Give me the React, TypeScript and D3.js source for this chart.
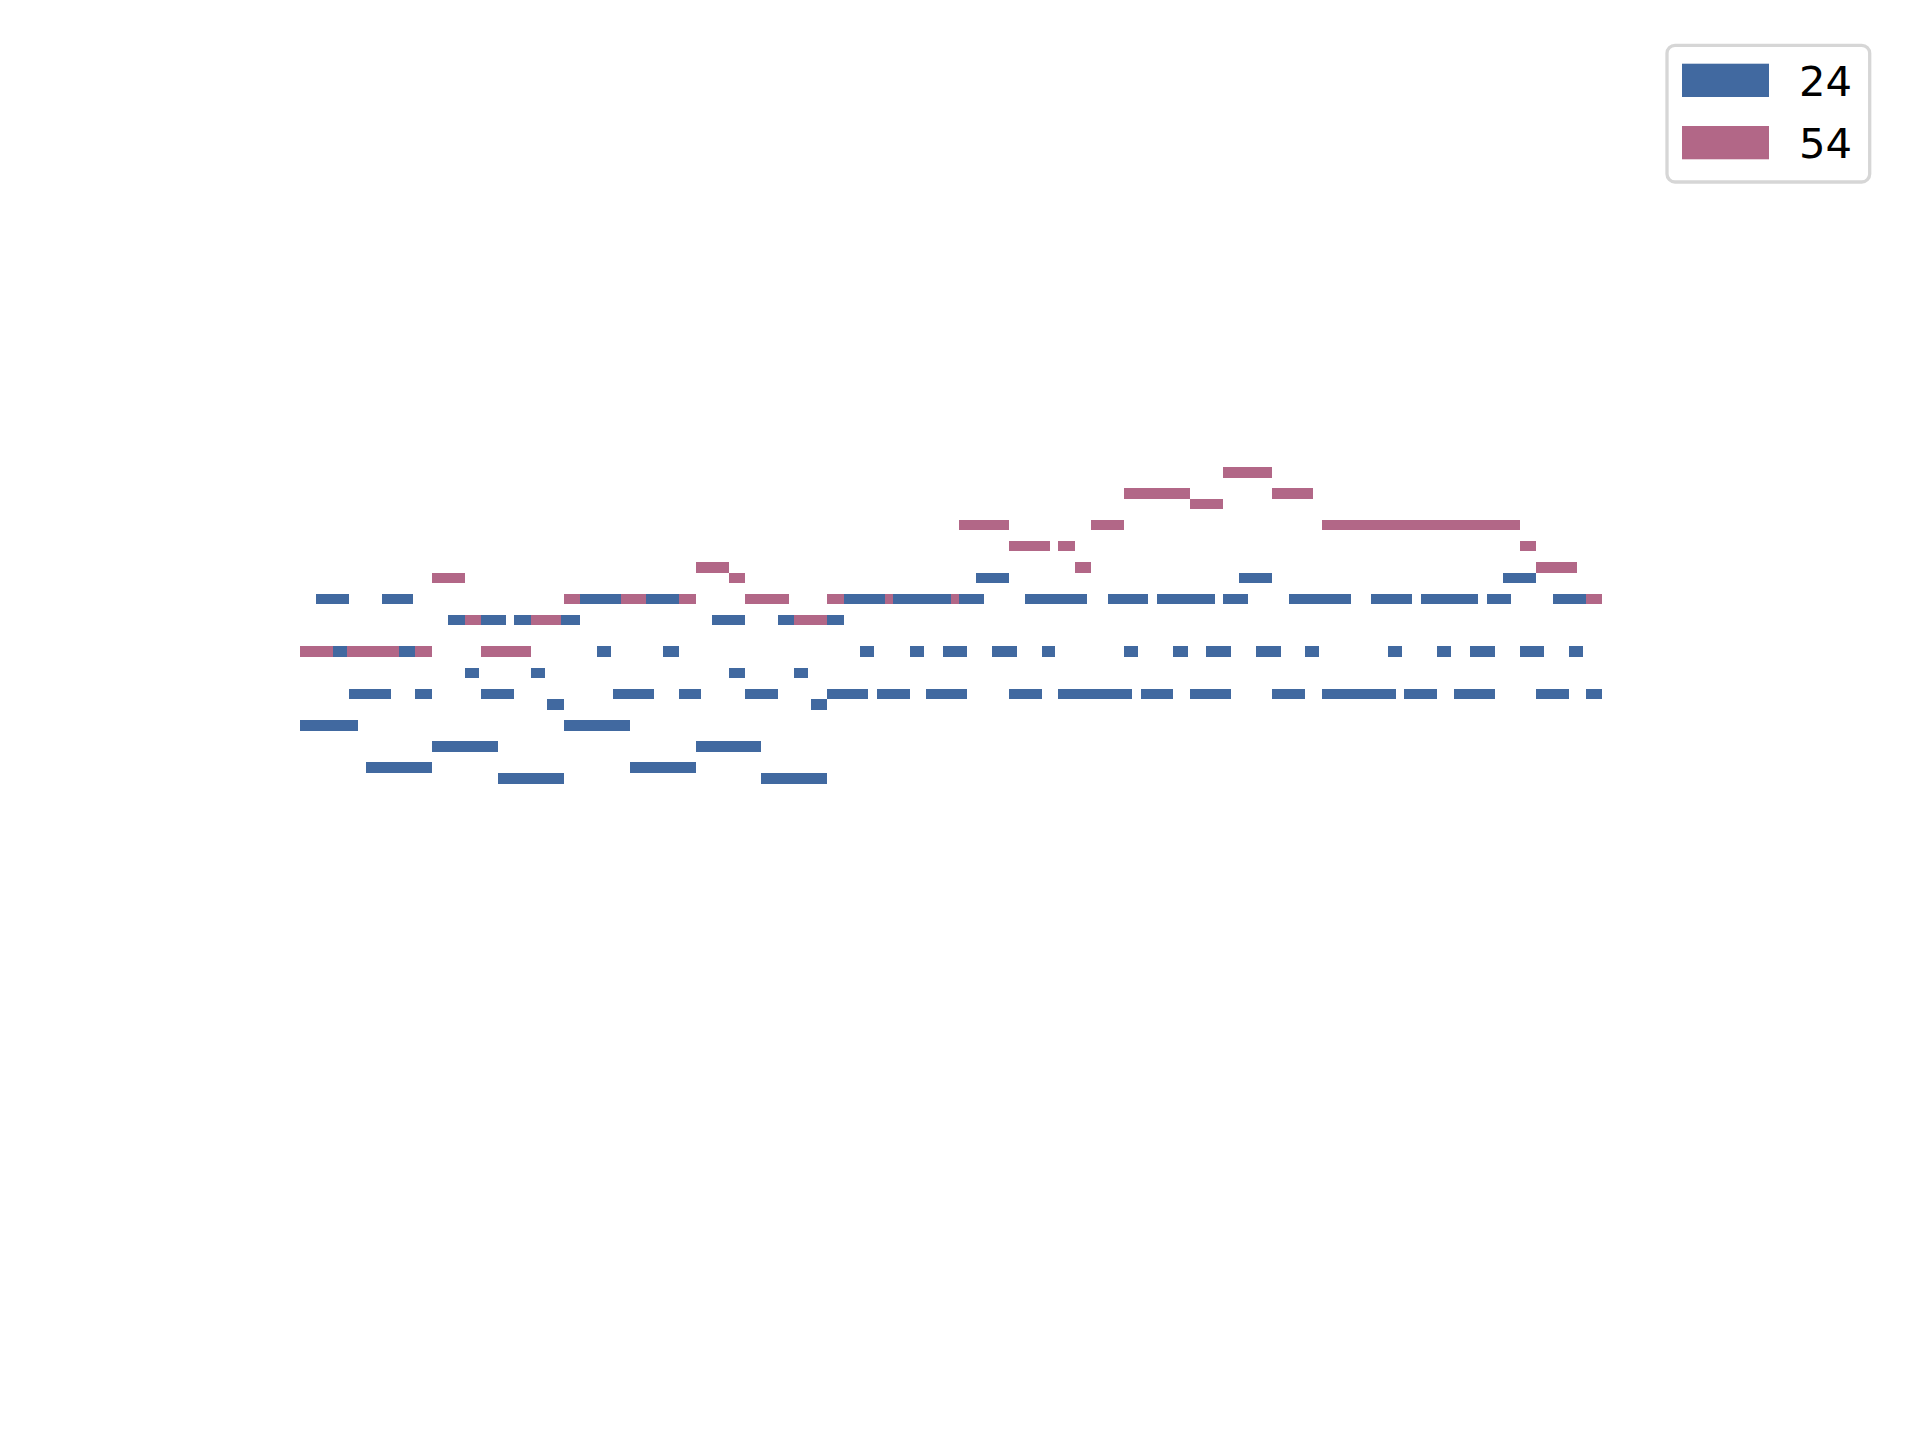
import React, { useRef, useEffect } from 'react';
import * as d3 from 'd3';

// [start, end, pitch], time in sixteenth steps
type Note = [number, number, number];

const programs = ['24', '54'];
const colors = ['#4169a0', '#b26787'];

const notes24: Note[] = [
  [41, 43, 74], [57, 59, 74], [73, 75, 74],
  [1, 3, 72], [5, 6.85, 72], [17, 19.5, 72], [21, 23, 72], [33, 35.5, 72], [36, 39.5, 72],
  [40, 41.5, 72], [44, 47.75, 72], [49, 51.45, 72], [52, 55.5, 72], [56, 57.5, 72],
  [60, 63.75, 72], [65, 67.45, 72], [68, 71.5, 72], [72, 73.5, 72], [76, 78, 72],
  [9, 10, 70], [11, 12.5, 70], [13, 14, 70], [15.85, 17, 70], [25, 27, 70], [29, 30, 70], [32, 33, 70],
  [2, 2.85, 67], [6, 7, 67], [18, 18.85, 67], [22, 23, 67], [34, 34.85, 67], [37, 37.85, 67],
  [39, 40.5, 67], [42, 43.5, 67], [45, 45.8, 67], [50, 50.85, 67], [53, 53.85, 67], [55, 56.5, 67],
  [58, 59.5, 67], [61, 61.85, 67], [66, 66.85, 67], [69, 69.85, 67], [71, 72.5, 67],
  [74, 75.5, 67], [77, 77.85, 67],
  [10, 10.85, 65], [14, 14.85, 65], [26, 27, 65], [30, 30.85, 65],
  [3, 5.5, 63], [7, 8, 63], [11, 13, 63], [19, 21.5, 63], [23, 24.35, 63], [27, 29, 63],
  [32, 34.45, 63], [35, 37, 63], [38, 40.5, 63], [43, 45, 63], [46, 50.5, 63], [51, 53, 63],
  [54, 56.5, 63], [59, 61, 63], [62, 66.5, 63], [67, 69, 63], [70, 72.5, 63], [75, 77, 63], [78, 79, 63],
  [15, 16, 62], [31, 32, 62],
  [0, 3.5, 60], [16, 20, 60],
  [8, 12, 58], [24, 28, 58],
  [4, 8, 56], [20, 24, 56],
  [12, 16, 55], [28, 32, 55],
];

const notes54: Note[] = [
  [56, 59, 84],
  [50, 54, 82], [59, 61.45, 82],
  [54, 56, 81],
  [40, 43, 79], [48, 50, 79], [62, 74, 79],
  [43, 45.5, 77], [46, 47, 77], [74, 75, 77],
  [24, 26, 75], [47, 48, 75], [75, 77.5, 75],
  [8, 10, 74], [26, 27, 74],
  [16, 24, 72], [27, 29.7, 72], [32, 40, 72], [78, 79, 72],
  [10, 11, 70], [14, 16, 70], [30, 32, 70],
  [0, 8, 67], [11, 14, 67],
];

const PianoRoll: React.FC = () => {
  const svgRef = useRef<SVGSVGElement | null>(null);
  const width = 1920;
  const height = 1440;

  useEffect(() => {
    const svg = d3.select(svgRef.current)
      .attr("width", width)
      .attr("height", height);

    const x = d3.scaleLinear().domain([0, 79]).range([300, 1602]);
    const y = d3.scaleLinear().domain([85, 55]).range([467, 783.6]);

    // voice underneath, guitar on top
    const layers = [
      { notes: notes54, color: colors[1] },
      { notes: notes24, color: colors[0] },
    ];

    svg.append("g")
      .attr("shape-rendering", "crispEdges")
      .selectAll("g")
      .data(layers)
      .join("g")
        .attr("fill", d => d.color)
      .selectAll("rect")
      .data(d => d.notes)
      .join("rect")
        .attr("x", d => x(d[0]))
        .attr("width", d => x(d[1]) - x(d[0]))
        .attr("y", d => y(d[2] + 1))
        .attr("height", d => y(d[2]) - y(d[2] + 1));

    const legend = svg.append("g");
    legend.append("rect")
      .attr("x", 1667)
      .attr("y", 45.3)
      .attr("width", 202.7)
      .attr("height", 136.7)
      .attr("rx", 8)
      .attr("fill", "white")
      .attr("stroke", "#d6d6d6")
      .attr("stroke-width", 3.3);

    const item = legend.selectAll("g.item")
      .data(programs)
      .join("g")
        .attr("class", "item")
        .attr("transform", (_, i) => `translate(0, ${i * 62.3})`);

    item.append("rect")
      .attr("x", 1682)
      .attr("y", 63.7)
      .attr("width", 87)
      .attr("height", 33.3)
      .attr("fill", (_, i) => colors[i]);

    item.append("text")
      .attr("x", 1799)
      .attr("y", 95.7)
      .attr("font-family", "DejaVu Sans")
      .attr("font-size", 41.7)
      .attr("fill", "black")
      .text(d => d);

    return () => {
      svg.selectAll("*").remove();
    };
  }, []);

  return <svg ref={svgRef} style={{ position: 'absolute', left: 0, top: 0 }}></svg>;
};

export default PianoRoll;
